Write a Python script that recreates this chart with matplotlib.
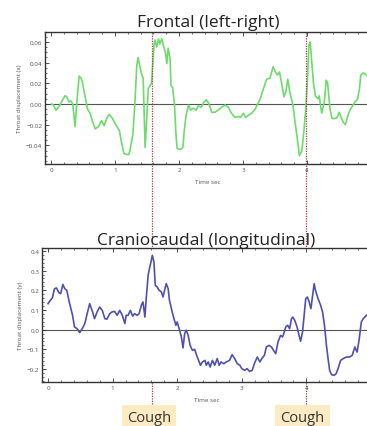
import matplotlib
matplotlib.use("Agg")
import matplotlib.pyplot as plt
from matplotlib.ticker import MultipleLocator, FixedLocator
import matplotlib.transforms as mtransforms

# frontal (left-right) displacement
frontal_t = [0.01, 0.036, 0.078, 0.13, 0.18, 0.22, 0.245, 0.28, 0.31, 0.34, 0.375, 0.40,
             0.44, 0.47, 0.49, 0.53, 0.57, 0.61, 0.65, 0.69, 0.74, 0.79, 0.83, 0.87, 0.91,
             0.96, 1.02, 1.07, 1.10, 1.14, 1.21, 1.23, 1.28, 1.31, 1.34, 1.36, 1.39, 1.42,
             1.44, 1.47, 1.49, 1.52, 1.55, 1.57, 1.61, 1.625, 1.65, 1.68, 1.70, 1.73, 1.755,
             1.79, 1.81, 1.83, 1.86, 1.875, 1.90, 1.93, 1.95, 1.97, 2.02, 2.06, 2.08, 2.11,
             2.15, 2.18, 2.22, 2.27, 2.30, 2.35, 2.39, 2.43, 2.47, 2.51, 2.56, 2.61, 2.67,
             2.72, 2.77, 2.82, 2.875, 2.93, 2.96, 3.005, 3.04, 3.08, 3.135, 3.19, 3.22, 3.27,
             3.32, 3.37, 3.42, 3.47, 3.505, 3.54, 3.57, 3.60, 3.64, 3.67, 3.70, 3.73, 3.78,
             3.81, 3.85, 3.88, 3.92, 3.95, 3.98, 4.005, 4.03, 4.05, 4.07, 4.10, 4.13, 4.17,
             4.19, 4.23, 4.27, 4.30, 4.32, 4.36, 4.39, 4.44, 4.47, 4.505, 4.54, 4.57, 4.60,
             4.63, 4.67, 4.71, 4.75, 4.79, 4.82, 4.84, 4.88, 4.93, 4.97]
frontal_x = [0.0, -0.001, -0.006, -0.002, 0.004, 0.008, 0.007, 0.002, 0.003, 0.0, -0.022, -0.001,
             0.027, 0.025, 0.021, 0.008, -0.005, -0.009, -0.017, -0.024, -0.022, -0.016, -0.021,
             -0.014, -0.010, -0.014, -0.021, -0.026, -0.037, -0.048, -0.049, -0.046, -0.029, 0.0,
             0.037, 0.045, 0.036, 0.028, 0.025, -0.042, -0.021, 0.015, 0.018, 0.020, 0.057, 0.062,
             0.055, 0.063, 0.058, 0.063, 0.057, 0.049, 0.039, 0.054, 0.044, 0.018, 0.016, -0.001,
             -0.027, -0.043, -0.044, -0.042, -0.027, -0.011, -0.001, -0.006, -0.004, -0.006,
             -0.002, -0.003, 0.002, 0.004, 0.0, -0.008, -0.008, -0.006, -0.003, -0.001, -0.003,
             -0.009, -0.013, -0.012, -0.013, -0.009, -0.013, -0.011, -0.009, -0.005, -0.001,
             0.005, 0.015, 0.024, 0.025, 0.036, 0.031, 0.028, 0.031, 0.021, 0.007, 0.012, 0.024,
             0.012, -0.001, -0.016, -0.034, -0.050, -0.045, -0.027, -0.005, 0.021, 0.057, 0.060,
             0.044, 0.021, 0.008, 0.005, 0.008, -0.009, 0.002, 0.023, 0.021, -0.005, -0.014,
             -0.014, -0.013, -0.008, -0.014, -0.018, -0.020, -0.013, -0.006, -0.002, 0.002,
             0.005, 0.015, 0.028, 0.030, 0.028, 0.026]

# craniocaudal (longitudinal) displacement
cranio_t = [0.0, 0.036, 0.067, 0.10, 0.13, 0.17, 0.196, 0.23, 0.26, 0.29, 0.335, 0.38, 0.41,
            0.45, 0.49, 0.53, 0.57, 0.60, 0.645, 0.69, 0.72, 0.76, 0.80, 0.84, 0.88, 0.91,
            0.955, 0.99, 1.03, 1.07, 1.11, 1.15, 1.19, 1.21, 1.24, 1.275, 1.31, 1.34, 1.38,
            1.41, 1.445, 1.47, 1.50, 1.52, 1.55, 1.57, 1.60, 1.615, 1.64, 1.66, 1.69, 1.72,
            1.755, 1.78, 1.81, 1.83, 1.86, 1.88, 1.91, 1.935, 1.98, 2.0, 2.03, 2.065, 2.09,
            2.116, 2.14, 2.17, 2.20, 2.235, 2.27, 2.30, 2.33, 2.36, 2.39, 2.43, 2.45, 2.48,
            2.51, 2.545, 2.58, 2.62, 2.65, 2.68, 2.72, 2.76, 2.81, 2.85, 2.89, 2.93, 2.97,
            3.00, 3.045, 3.08, 3.12, 3.16, 3.20, 3.24, 3.28, 3.31, 3.35, 3.38, 3.42, 3.46,
            3.49, 3.525, 3.56, 3.60, 3.63, 3.65, 3.68, 3.71, 3.74, 3.77, 3.79, 3.82, 3.855,
            3.886, 3.91, 3.94, 3.96, 3.99, 4.015, 4.04, 4.07, 4.09, 4.12, 4.14, 4.18, 4.22,
            4.25, 4.28, 4.31, 4.335, 4.36, 4.39, 4.43, 4.46, 4.49, 4.53, 4.57, 4.62, 4.67,
            4.71, 4.75, 4.785, 4.815, 4.85, 4.88, 4.93, 4.97]
cranio_y = [0.132, 0.149, 0.161, 0.208, 0.212, 0.188, 0.183, 0.23, 0.208, 0.20, 0.132, 0.073,
            0.014, 0.005, -0.015, 0.005, 0.031, 0.073, 0.132, 0.09, 0.056, 0.09, 0.115, 0.098,
            0.056, 0.053, 0.081, 0.09, 0.093, 0.073, 0.098, 0.073, 0.031, 0.073, 0.073, 0.098,
            0.069, 0.081, 0.073, 0.081, 0.124, 0.141, 0.064, 0.158, 0.276, 0.31, 0.353, 0.378,
            0.344, 0.225, 0.217, 0.20, 0.192, 0.166, 0.208, 0.234, 0.208, 0.149, 0.107, 0.073,
            0.022, 0.039, 0.005, -0.037, -0.093, -0.02, -0.003, -0.029, -0.08, -0.105, -0.10,
            -0.13, -0.156, -0.181, -0.164, -0.156, -0.181, -0.164, -0.19, -0.156, -0.181,
            -0.147, -0.181, -0.164, -0.173, -0.164, -0.156, -0.127, -0.147, -0.173, -0.181,
            -0.198, -0.207, -0.198, -0.212, -0.207, -0.168, -0.139, -0.164, -0.147, -0.13,
            -0.088, -0.08, -0.088, -0.105, -0.122, -0.063, -0.029, -0.037, -0.02, 0.014, 0.022,
            0.005, 0.056, 0.064, 0.047, 0.014, -0.029, -0.059, -0.012, 0.056, 0.158, 0.166,
            0.144, 0.107, 0.158, 0.234, 0.20, 0.158, 0.124, 0.09, 0.022, -0.08, -0.147, -0.207,
            -0.229, -0.232, -0.224, -0.198, -0.156, -0.147, -0.139, -0.139, -0.13, -0.088,
            -0.114, -0.054, 0.039, 0.056, 0.073, 0.08]

time_ticks = [0, 1, 2, 3, 4]
cough_times = [1.58, 3.98]
cough_label = "Cough"

W, H = 367, 427
fig = plt.figure(figsize=(W / 100, H / 100), dpi=100)
plt.rcParams['font.family'] = ['Open Sans', 'DejaVu Sans']


def style_axes(ax, ylabel, ymajor, yminor):
    ax.axhline(0, color='#555555', lw=0.8, zorder=1)
    ax.xaxis.set_major_locator(FixedLocator(time_ticks))
    ax.xaxis.set_minor_locator(MultipleLocator(0.2))
    ax.yaxis.set_major_locator(MultipleLocator(ymajor))
    ax.yaxis.set_minor_locator(MultipleLocator(yminor))
    ax.tick_params(which='both', direction='in', top=True, right=True,
                   labelsize=4.5, labelcolor='#555555', color='#333333', pad=2)
    ax.tick_params(which='major', length=3, width=0.6)
    ax.tick_params(which='minor', length=1.5, width=0.5)
    for s in ax.spines.values():
        s.set_linewidth(1.0)
        s.set_color('#333333')
    ax.set_xlabel('Time sec', fontsize=4.5, color='#555555', labelpad=5)
    ax.set_ylabel(ylabel, fontsize=4.5, color='#555555', labelpad=3)


# top panel: frontal
ax1 = fig.add_axes([45 / W, 1 - 165 / H, 326 / W, 132 / H])
ax1.plot(frontal_t, frontal_x, color='#6ddc6d', lw=1.2, zorder=3)
ax1.set_xlim(-0.094, 5.0)
ax1.set_ylim(-0.058, 0.0696)
style_axes(ax1, 'Throat displacement (x)', 0.02, 0.005)
ax1.set_title('Frontal (left-right)', fontsize=12.5, color='#222222', pad=4)

# bottom panel: craniocaudal
ax2 = fig.add_axes([42 / W, 1 - 383 / H, 329 / W, 134 / H])
ax2.plot(cranio_t, cranio_y, color='#5050b0', lw=1.2, zorder=3)
ax2.set_xlim(-0.093, 5.0)
ax2.set_ylim(-0.266, 0.415)
style_axes(ax2, 'Throat displacement (y)', 0.1, 0.02)
ax2.set_title('Craniocaudal (longitudinal)', fontsize=12.5, color='#222222', pad=-1)

# cough markers running through both panels
top_px, bot_px = 33, 405
ymin = 1 - (bot_px - top_px) / 132
for t in cough_times:
    ax1.axvline(t, ymin=ymin, ymax=1, color='#a83a3a', lw=0.9, ls=(0, (1, 1)),
                clip_on=False, zorder=5)
    trans = mtransforms.blended_transform_factory(ax1.transData, fig.transFigure)
    fig.text(t - 0.05, 1 - 419 / H, cough_label, transform=trans, ha='center', va='center',
             fontsize=10.5, color='#333333',
             bbox=dict(boxstyle='square,pad=0.35', facecolor='#fcebc3', edgecolor='none'))

fig.savefig('out.png', dpi=100)
